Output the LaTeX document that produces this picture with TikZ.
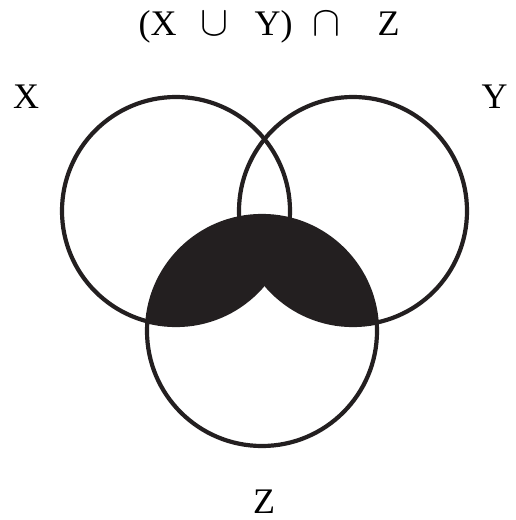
\RequirePackage{fix-cm}
\documentclass[tikz,border=0pt]{standalone}
\usepackage{fontspec}
\setmainfont{Liberation Serif}
\definecolor{ink}{HTML}{231F20}
\begin{document}
\begin{tikzpicture}[x=1pt,y=-1pt,
  setline/.style={draw=ink,line width=4.2pt},
  lbl/.style={inner sep=0pt,anchor=base,font=\fontsize{36}{40}\selectfont},
  opsym/.style={inner sep=0pt,anchor=base,font=\fontsize{42}{46}\selectfont}]
\useasboundingbox (0,0) rectangle (516,520);
% shaded region (X u Y) n Z
\begin{scope}
  \clip (262,331) circle (115);
  \fill[ink] (176,211) circle (114);
  \fill[ink] (353,211) circle (114);
\end{scope}
% circles
\draw[setline] (176,211) circle (114);
\draw[setline] (353,211) circle (114);
\draw[setline] (262,331) circle (115);
% title
\node[lbl,anchor=base west] (t1) at (138.5,35) {(X};
\node[opsym] (t2) at (214.5,35) {$\cup$};
\node[lbl,anchor=base west] (t3) at (254.5,35) {Y)};
\node[opsym] (t4) at (326,35) {$\cap$};
\node[lbl,anchor=base west] (t5) at (377.5,35) {Z};
% set labels
\node[lbl] (lx) at (26,108) {X};
\node[lbl] (ly) at (494.5,108) {Y};
\node[lbl] (lz) at (264,513) {Z};
\end{tikzpicture}
\end{document}
